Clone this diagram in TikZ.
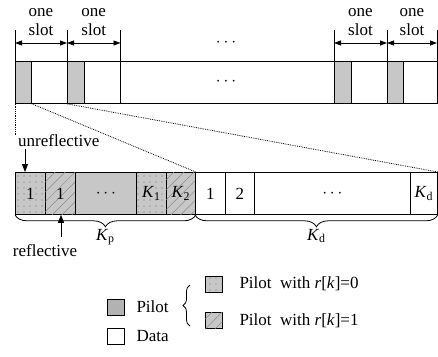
\documentclass[tikz,border=0pt]{standalone}
\usepackage{fontspec}
\setmainfont{Liberation Serif}
\usetikzlibrary{arrows.meta,patterns.meta,decorations.pathreplacing}

\newcommand{\Ks}[1]{\textit{K}\textsubscript{#1}}

\tikzset{
  cell/.style={draw, line width=0.8pt, inner sep=0pt, minimum height=42pt, anchor=north west},
  pilot/.style={cell, fill=black!22},
  dotpilot/.style={pilot, postaction={pattern={Dots[distance=6pt, radius=0.6pt]}, pattern color=black!55}},
  linepilot/.style={pilot, postaction={pattern={Lines[angle=45, distance=7pt, line width=0.5pt]}, pattern color=black!45}},
  legbox/.style={draw, line width=0.8pt, inner sep=0pt, minimum width=17pt, minimum height=16pt, anchor=north west},
  dim/.style={line width=0.8pt, {Triangle[length=7pt,width=5pt]}-{Triangle[length=7pt,width=5pt]}},
  arr/.style={line width=0.8pt, -{Triangle[length=8pt,width=6pt]}},
  link/.style={line width=0.8pt, densely dotted},
  brace/.style={line width=0.8pt, decorate, decoration={brace, amplitude=#1}},
}

\begin{document}
\begin{tikzpicture}[x=1pt, y=-1pt, font=\fontsize{17}{19}\selectfont]
  \useasboundingbox (0,0) rectangle (438,356);

  % frame of slots
  \node[cell, minimum width=422pt] (frame) at (15,61) {};
  \node[pilot, minimum width=16pt] (p1) at (15,61) {};
  \node[pilot, minimum width=17pt] (p2) at (67,61) {};
  \node[pilot, minimum width=17pt] (p3) at (334,61) {};
  \node[pilot, minimum width=16pt] (p4) at (387,61) {};
  \node at (226,82) {$\cdots$};
  \node at (226,43) {$\cdots$};

  \foreach \x in {15,67,120.5,334,387,437}
    \draw[line width=0.8pt] (\x,30) -- (\x,103);
  \foreach \a/\b in {15/67, 67/120.5, 334/387, 387/437}
    \draw[dim] (\a,43) -- (\b,43)
      node[midway, above=7pt, align=center, inner sep=0pt] {one\\slot};

  % expanded slot
  \node[dotpilot, minimum width=30pt] (c1) at (15,172) {1};
  \node[linepilot, minimum width=30pt] (c2) at (45,172) {1};
  \node[pilot, minimum width=61pt] (c3) at (75,172) {$\cdots$};
  \node[dotpilot, minimum width=30pt] (c4) at (136,172) {\Ks{1}};
  \node[linepilot, minimum width=29pt] (c5) at (166,172) {\Ks{2}};
  \node[cell, minimum width=30pt] (d1) at (195,172) {1};
  \node[cell, minimum width=29pt] (d2) at (225,172) {2};
  \node[cell, minimum width=156pt] (d3) at (254,172) {$\cdots$};
  \node[cell, minimum width=27pt] (d4) at (410,172) {\Ks{d}};

  \coordinate (vend) at (15,135);
  \draw[link] (p1.south west) -- (vend);
  \draw[link] (p1.south east) -- (c5.north east);
  \draw[link] (p2.south west) -- (d4.north east);

  \draw[brace=12pt] (c5.south east) -- (c1.south west)
    node[midway, below=14pt, inner sep=0pt] {\Ks{p}};
  \draw[brace=12pt] (d4.south east) -- (d1.south west)
    node[midway, below=14pt, inner sep=0pt] {\Ks{d}};

  \node[anchor=west, inner sep=0pt] (unref) at (18,141) {unreflective};
  \coordinate (utail) at (25,149);
  \draw[arr] (utail) -- (utail |- c1.north);
  \node (ref) at (45,251) {reflective};
  \coordinate (rtail) at (61,237);
  \draw[arr] (rtail) -- (rtail |- c2.south);

  % legend
  \node[legbox, fill=black!30] (lp) at (107,299) {};
  \node[anchor=west] (lpt) at (133,307) {Pilot};
  \node[legbox] (ld) at (107,328) {};
  \node[anchor=west] (ldt) at (133,336) {Data};
  \draw[brace=7pt] (190,326) -- (190,285);
  \node[legbox, dotpilot, minimum height=16pt, minimum width=17pt] (l0) at (205,276) {};
  \node[anchor=west] (l0t) at (236,284) {Pilot\ \ with \textit{r}[\textit{k}]=0};
  \node[legbox, linepilot, minimum height=16pt, minimum width=17pt] (l1) at (205,312) {};
  \node[anchor=west] (l1t) at (236,321) {Pilot\ \ with \textit{r}[\textit{k}]=1};
\end{tikzpicture}
\end{document}
